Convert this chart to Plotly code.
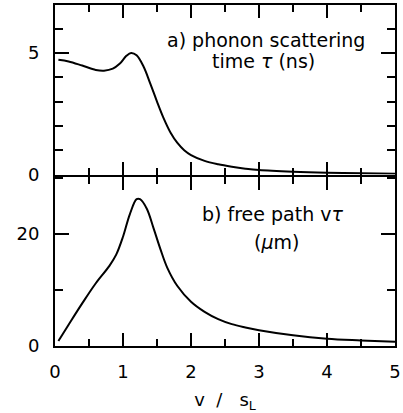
import plotly.graph_objects as go

# Data
v_tau = [0.05, 0.2, 0.4, 0.6, 0.72, 0.85, 0.95, 1.05, 1.12, 1.2, 1.3, 1.4, 1.5, 1.6,
         1.7, 1.8, 1.9, 2.0, 2.2, 2.4, 2.6, 2.8, 3.0, 3.5, 4.0, 4.5, 5.0]
tau_ns = [4.72, 4.65, 4.48, 4.30, 4.27, 4.35, 4.55, 4.88, 5.00, 4.90, 4.45, 3.75, 3.00, 2.30,
          1.72, 1.30, 1.00, 0.80, 0.56, 0.42, 0.32, 0.24, 0.18, 0.11, 0.07, 0.05, 0.03]

v_path = [0.05, 0.2, 0.4, 0.6, 0.8, 0.9, 1.0, 1.1, 1.2, 1.25, 1.35, 1.45, 1.55, 1.65,
          1.8, 2.0, 2.2, 2.4, 2.6, 2.8, 3.0, 3.5, 4.0, 4.5, 5.0]
path_um = [0.9, 3.8, 7.6, 11.2, 14.3, 16.3, 19.5, 23.5, 26.2, 26.2, 24.5, 21.0, 17.3, 14.0,
           10.7, 7.9, 6.1, 4.8, 3.9, 3.3, 2.8, 1.9, 1.3, 1.0, 0.75]

FONT = "DejaVu Sans"
tf = dict(family=FONT, size=18, color="black")

fig = go.Figure()
fig.add_trace(go.Scatter(x=v_tau, y=tau_ns, xaxis="x2", yaxis="y2", mode="lines",
                         line=dict(color="black", width=2, shape="spline")))
fig.add_trace(go.Scatter(x=v_path, y=path_um, xaxis="x", yaxis="y", mode="lines",
                         line=dict(color="black", width=2, shape="spline")))

def xax(**kw):
    d = dict(range=[0, 5], tickmode="linear", tick0=0, dtick=1,
             ticks="inside", ticklen=13, tickwidth=2, tickcolor="black",
             showline=True, linecolor="black", linewidth=2, mirror="allticks",
             showgrid=False, zeroline=False, tickfont=tf,
             minor=dict(tickmode="linear", tick0=0, dtick=0.5, ticks="inside", ticklen=7,
                        tickwidth=2, tickcolor="black", showgrid=False))
    d.update(kw)
    return d

def yax(rng, major, md, dom, anchor):
    return dict(range=rng, tickmode="linear", tick0=0, dtick=major, domain=dom, anchor=anchor,
                ticks="inside", ticklen=14, tickwidth=2, tickcolor="black",
                showline=True, linecolor="black", linewidth=2, mirror="allticks",
                showgrid=False, zeroline=False, tickfont=tf, ticklabelstandoff=10,
                minor=dict(tickmode="linear", tick0=0, dtick=md, ticks="inside", ticklen=8,
                           tickwidth=2, tickcolor="black", showgrid=False))

gap = 1.0 / 341
fig.update_layout(
    template="none",
    xaxis=xax(anchor="y", ticklabelstandoff=8,
              title=dict(text="v  /   s<sub>L</sub>", font=tf, standoff=16)),
    xaxis2=xax(anchor="y2", matches="x", showticklabels=False),
    yaxis=yax([0, 30.25], 20, 10, [0, 0.5 - gap], "x"),
    yaxis2=yax([0, 6.97], 5, 1, [0.5 + gap, 1], "x2"),
)

afont = dict(family=FONT, size=19, color="black")
fig.add_annotation(x=3.10, y=5.54, xref="x2", yref="y2", text="a) phonon scattering", showarrow=False,
                   xanchor="center", font=afont)
fig.add_annotation(x=3.07, y=4.66, xref="x2", yref="y2", text="time <i>τ</i> (ns)", showarrow=False,
                   xanchor="center", font=afont)
fig.add_annotation(x=3.20, y=23.56, xref="x", yref="y", text="b) free path v<i>τ</i>", showarrow=False,
                   xanchor="center", font=afont)
fig.add_annotation(x=3.26, y=18.5, xref="x", yref="y", text="(<i>μ</i>m)", showarrow=False,
                   xanchor="center", font=afont)

fig.update_layout(width=403, height=413, margin=dict(l=55, r=8, t=5, b=67),
                  paper_bgcolor="white", plot_bgcolor="white", showlegend=False)
fig.write_html("out.html")
